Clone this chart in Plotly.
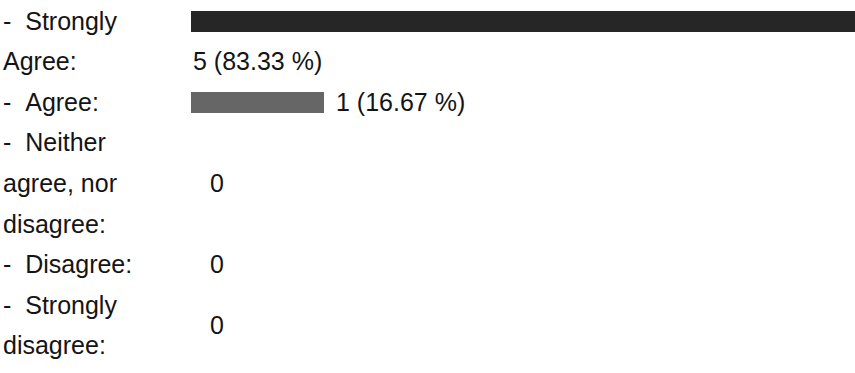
import plotly.graph_objects as go

# ---- data ----
categories = ["Strongly Agree", "Agree", "Neither agree, nor disagree", "Disagree", "Strongly disagree"]
label_lines = [
    ["-\u00a0\u00a0Strongly", "Agree:"],
    ["-\u00a0\u00a0Agree:"],
    ["-\u00a0\u00a0Neither", "agree, nor", "disagree:"],
    ["-\u00a0\u00a0Disagree:"],
    ["-\u00a0\u00a0Strongly", "disagree:"],
]
counts = [5, 1, 0, 0, 0]
percents = [83.33, 16.67, 0, 0, 0]

# ---- layout constants (pixels) ----
W, H = 855, 373
LINE0 = 20.5      # centre of first text line
LINE_H = 40.6     # line pitch
BAR_X0 = 191      # pixel where value 0 sits
BAR_H = 21
FONT = dict(family="Liberation Sans, Arial, sans-serif", size=25, color="#141414")
bar_colors = ["#262626", "#666666", "#666666", "#666666", "#666666"]

def line_y(k):
    return LINE0 + LINE_H * k

fig = go.Figure()
annotations = []

line = 0
bar_y, bar_x, bar_c = [], [], []
for i, lines in enumerate(label_lines):
    first = line
    for j, t in enumerate(lines):
        annotations.append(dict(
            text=t, x=1 / W, xref="paper", y=line_y(line + j), yref="y",
            xanchor="left", yanchor="middle", showarrow=False, font=FONT, align="left"))
    n = len(lines)
    if counts[i] > 0:
        bar_y.append(line_y(first) + 1)
        bar_x.append(counts[i])
        bar_c.append(bar_colors[i])
        label = f"{counts[i]} ({percents[i]:.2f} %)"
        if counts[i] == max(counts):
            # no room to the right: value goes on the next line
            annotations.append(dict(
                text=label, x=0, xref="x", y=line_y(first + 1), yref="y",
                xanchor="left", yanchor="middle", xshift=0, showarrow=False, font=FONT))
        else:
            annotations.append(dict(
                text=label, x=counts[i], xref="x", y=line_y(first), yref="y",
                xanchor="left", yanchor="middle", xshift=10, showarrow=False, font=FONT))
    else:
        annotations.append(dict(
            text=str(counts[i]), x=0, xref="x", y=line_y(first + (n - 1) / 2), yref="y",
            xanchor="left", yanchor="middle", xshift=17, showarrow=False, font=FONT))
    line += n

fig.add_trace(go.Bar(
    x=bar_x, y=bar_y, orientation="h", width=BAR_H,
    marker=dict(color=bar_c, line=dict(width=0)),
    hoverinfo="skip", showlegend=False))

fig.update_layout(
    width=W, height=H,
    margin=dict(l=0, r=0, t=0, b=0),
    paper_bgcolor="white", plot_bgcolor="white",
    annotations=annotations,
    bargap=0,
    xaxis=dict(domain=[BAR_X0 / W, 1], range=[0, max(counts)], visible=False, fixedrange=True),
    yaxis=dict(range=[H, 0], visible=False, fixedrange=True),
)

fig.write_html("out.html", config={"displayModeBar": False},
               post_script="document.body.style.margin='0';")
